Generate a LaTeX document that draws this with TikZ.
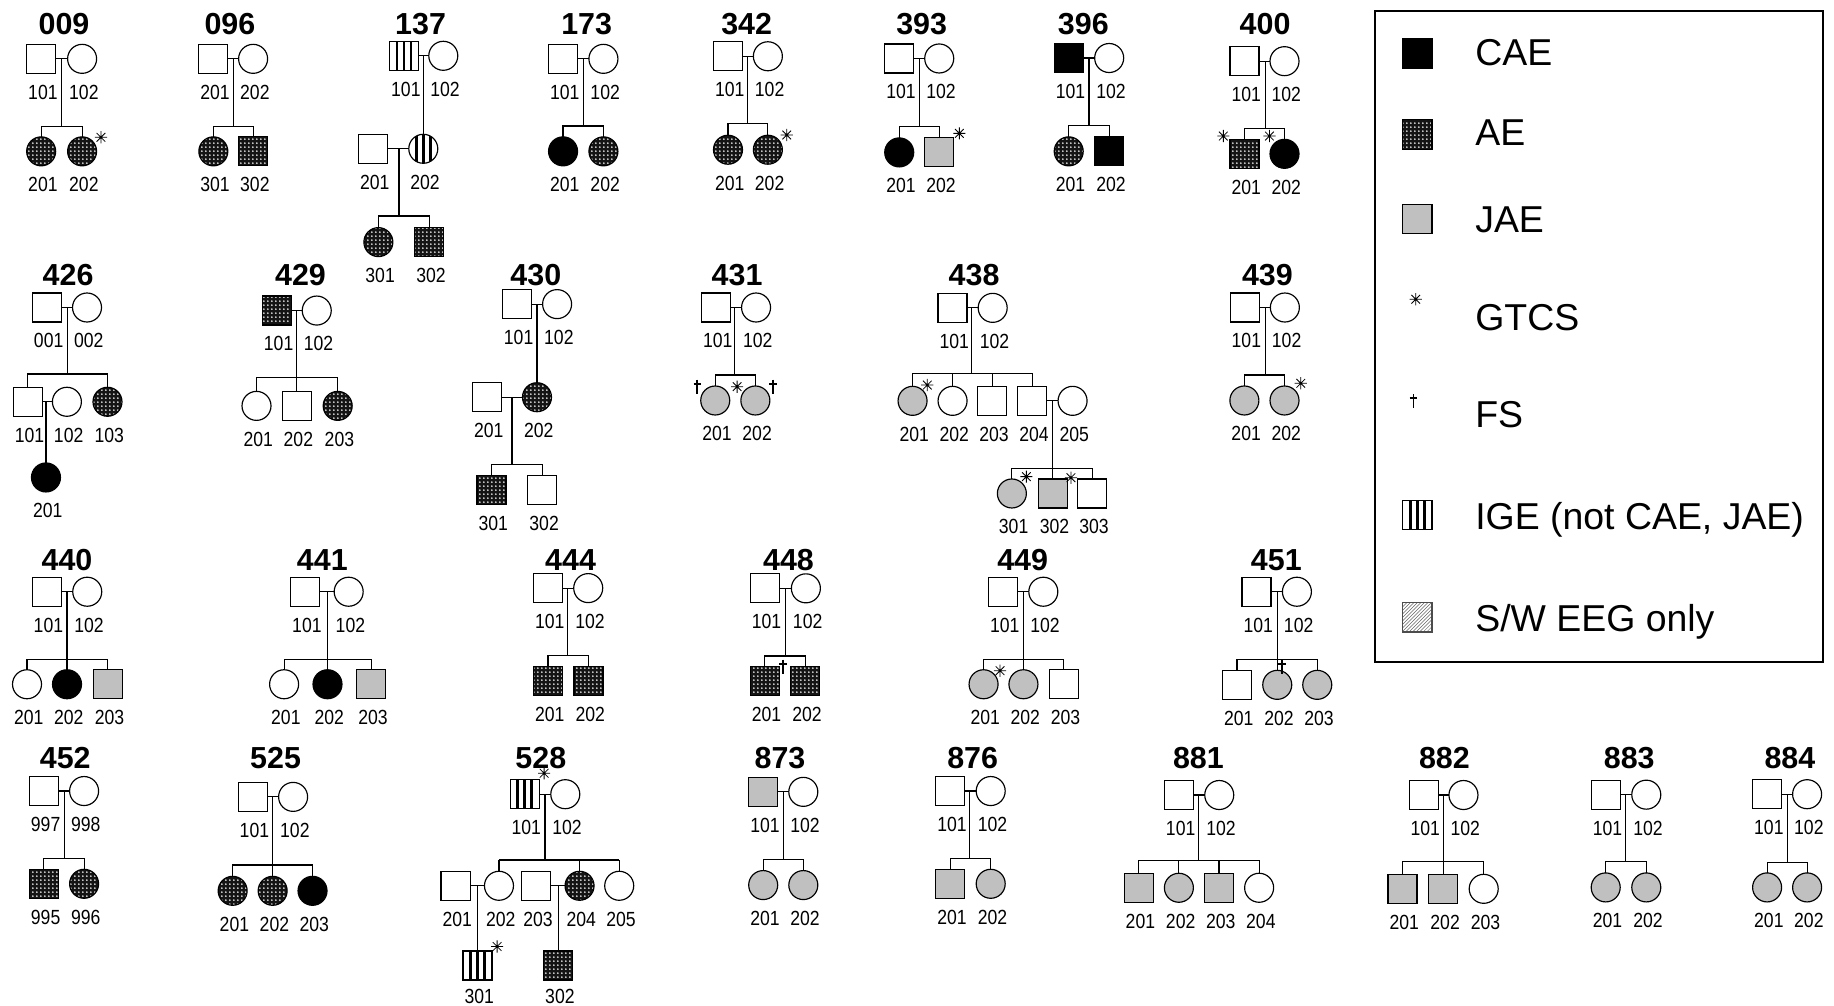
\documentclass[tikz,border=0pt]{standalone}
\usepackage{fontspec}
\setmainfont{Liberation Sans}
\newfontfamily\labfont[FakeStretch=0.86]{Liberation Sans}
\usetikzlibrary{patterns}
\pgfdeclarepatternformonly{aedots}{\pgfqpoint{0pt}{0pt}}{\pgfqpoint{3.3pt}{3.3pt}}{\pgfqpoint{3.3pt}{3.3pt}}{\pgfpathcircle{\pgfqpoint{1.65pt}{1.65pt}}{0.8pt}\pgfusepath{fill}}
\definecolor{jaegray}{RGB}{192,192,192}
\tikzset{
  pline/.style={line width=1pt, black},
  indiv/.style={draw=black, line width=1pt, inner sep=0pt, outer sep=0pt, minimum size=24.8pt},
  lab/.style={font=\labfont\fontsize{17.5}{20}\selectfont, inner sep=0pt},
  ttl/.style={font=\bfseries\fontsize{26}{30}\selectfont, inner sep=0pt},
  leg/.style={font=\fontsize{32}{36}\selectfont, inner sep=0pt, anchor=base west},
  nofill/.style={},
  cae/.style={fill=black},
  jae/.style={fill=jaegray},
  ae/.style={preaction={fill=black!92}, pattern=aedots, pattern color=white},
  ige/.style={path picture={
    \foreach \dx in {-6,0,6}{\draw[line width=2.2pt] ([xshift=\dx pt]path picture bounding box.north) -- ([xshift=\dx pt]path picture bounding box.south);}
  }},
  swfill/.style={pattern=north east lines, pattern color=black!60},
  gtcs/.pic={\draw[line width=0.7pt] (-5.2,0)--(5.2,0) (0,-5.2)--(0,5.2) (-3.7,-3.7)--(3.7,3.7) (-3.7,3.7)--(3.7,-3.7);},
  fsd/.pic={\draw[line width=1.5pt] (0,-6)--(0,6) (-3.2,-2.5)--(3.2,-2.5);}
}
\newcommand{\pedM}[5]{\node[indiv,rectangle,#4] (#1) at (#2,#3) {};\node[lab] (#1l) at (#2+1.5,#3+28.5) {#5};}
\newcommand{\pedF}[5]{\node[indiv,circle,#4] (#1) at (#2,#3) {};\node[lab] (#1l) at (#2+1.5,#3+28.5) {#5};}
\newcommand{\pedmate}[2]{\draw[pline] (#1) -- (#2);}
\newcommand{\peddesc}[2]{\draw[pline] (#1 |- #2.east) -- (#1);}
\newcommand{\pedsib}[3]{\draw[pline] (#2.north) |- (#1) -| (#3.north);}
\newcommand{\peddrop}[2]{\draw[pline] (#2.north) -- (#2.north |- #1);}
\newcommand{\pedchild}[2]{\draw[pline] (#2.north |- #1.east) -- (#2.north);}
\begin{document}
\begin{tikzpicture}[x=1pt,y=-1pt]
\useasboundingbox (0,0) rectangle (1568,860);
% ---------- row 1 ----------
% 009
\node[ttl] (p009t) at (54.7,20.7) {009};
\pedM{p009i101}{35.2}{50.3}{nofill}{101}
\pedF{p009i102}{70.2}{50.3}{nofill}{102}
\pedF{p009i201}{35.2}{129.4}{ae}{201}
\pedF{p009i202}{70.2}{129.4}{ae}{202}
\coordinate (p009s) at (52.7,108.3);
\pedmate{p009i101}{p009i102}
\peddesc{p009s}{p009i101}
\pedsib{p009s}{p009i201}{p009i202}
\pic at (86.3,117.4) {gtcs};
% 096
\node[ttl] (p096t) at (196.6,20.7) {096};
\pedM{p096i201}{182.4}{50.3}{nofill}{201}
\pedF{p096i202}{216.4}{50.3}{nofill}{202}
\pedF{p096i301}{182.4}{129.4}{ae}{301}
\pedM{p096i302}{216.4}{129.4}{ae}{302}
\coordinate (p096s) at (199.5,108.3);
\pedmate{p096i201}{p096i202}
\peddesc{p096s}{p096i201}
\pedsib{p096s}{p096i301}{p096i302}
% 137
\node[ttl] (p137t) at (359.6,20.7) {137};
\pedM{p137i101}{345.5}{47.7}{ige}{101}
\pedF{p137i102}{379}{47.7}{nofill}{102}
\pedM{p137i201}{318.9}{127.2}{nofill}{201}
\pedF{p137i202}{361.9}{127.2}{ige}{202}
\pedF{p137i301}{323.5}{207}{ae}{301}
\pedM{p137i302}{367}{207}{ae}{302}
\coordinate (p137s) at (341.1,184.7);
\pedmate{p137i101}{p137i102}
\pedchild{p137i101}{p137i202}
\pedmate{p137i201}{p137i202}
\peddesc{p137s}{p137i201}
\pedsib{p137s}{p137i301}{p137i302}
% 173
\node[ttl] (p173t) at (501.6,20.7) {173};
\pedM{p173i101}{481.4}{50.3}{nofill}{101}
\pedF{p173i102}{515.9}{50.3}{nofill}{102}
\pedF{p173i201}{481.4}{129.4}{cae}{201}
\pedF{p173i202}{515.9}{129.4}{ae}{202}
\coordinate (p173s) at (498.7,107.7);
\pedmate{p173i101}{p173i102}
\peddesc{p173s}{p173i101}
\pedsib{p173s}{p173i201}{p173i202}
% 342
\node[ttl] (p342t) at (638.4,20.7) {342};
\pedM{p342i101}{622.4}{48.1}{nofill}{101}
\pedF{p342i102}{656.5}{48.1}{nofill}{102}
\pedF{p342i201}{622.4}{128}{ae}{201}
\pedF{p342i202}{656.5}{128}{ae}{202}
\coordinate (p342s) at (639.3,105.4);
\pedmate{p342i101}{p342i102}
\peddesc{p342s}{p342i101}
\pedsib{p342s}{p342i201}{p342i202}
\pic at (672.6,115.4) {gtcs};
% 393
\node[ttl] (p393t) at (788,20.7) {393};
\pedM{p393i101}{768.8}{50}{nofill}{101}
\pedF{p393i102}{803}{50}{nofill}{102}
\pedF{p393i201}{768.8}{130.3}{cae}{201}
\pedM{p393i202}{803}{130.3}{jae}{202}
\coordinate (p393s) at (786,108.3);
\pedmate{p393i101}{p393i102}
\peddesc{p393s}{p393i101}
\pedsib{p393s}{p393i201}{p393i202}
\pic at (820.2,114) {gtcs};
% 396
\node[ttl] (p396t) at (926.2,20.7) {396};
\pedM{p396i101}{913.7}{49.6}{cae}{101}
\pedF{p396i102}{948.3}{49.6}{nofill}{102}
\pedF{p396i201}{913.7}{129.4}{ae}{201}
\pedM{p396i202}{948.3}{129.4}{cae}{202}
\coordinate (p396s) at (931.1,107.4);
\pedmate{p396i101}{p396i102}
\peddesc{p396s}{p396i101}
\pedsib{p396s}{p396i201}{p396i202}
% 400
\node[ttl] (p400t) at (1081.6,20.7) {400};
\pedM{p400i101}{1064}{52.3}{nofill}{101}
\pedF{p400i102}{1098.2}{52.3}{nofill}{102}
\pedM{p400i201}{1064}{131.5}{ae}{201}
\pedF{p400i202}{1098.2}{131.5}{cae}{202}
\coordinate (p400s) at (1081.6,109.7);
\pedmate{p400i101}{p400i102}
\peddesc{p400s}{p400i101}
\pedsib{p400s}{p400i201}{p400i202}
\pic at (1045.9,116.3) {gtcs};
\pic at (1085.3,116.3) {gtcs};
% ---------- row 2 ----------
% 426
\node[ttl] (p426t) at (58.2,235.1) {426};
\pedM{p426i001}{40.1}{262.9}{nofill}{001}
\pedF{p426i002}{74.4}{262.9}{nofill}{002}
\pedM{p426i101}{23.7}{343.5}{nofill}{101}
\pedF{p426i102}{57.2}{343.5}{nofill}{102}
\pedF{p426i103}{91.9}{343.5}{ae}{103}
\pedF{p426i201}{39.3}{408.2}{cae}{201}
\coordinate (p426s) at (57.9,319.8);
\pedmate{p426i001}{p426i002}
\peddesc{p426s}{p426i001}
\pedsib{p426s}{p426i101}{p426i103}
\pedmate{p426i101}{p426i102}
\pedchild{p426i101}{p426i201}
% 429
\node[ttl] (p429t) at (256.9,235.1) {429};
\pedM{p429i101}{236.7}{265.5}{ae}{101}
\pedF{p429i102}{270.8}{265.5}{nofill}{102}
\pedF{p429i201}{219.3}{347}{nofill}{201}
\pedM{p429i202}{253.6}{347}{nofill}{202}
\pedF{p429i203}{288.7}{347}{ae}{203}
\coordinate (p429s) at (253.6,322.6);
\pedmate{p429i101}{p429i102}
\peddesc{p429s}{p429i101}
\pedsib{p429s}{p429i201}{p429i203}
\peddrop{p429s}{p429i202}
% 430
\node[ttl] (p430t) at (458.1,235.1) {430};
\pedM{p430i101}{441.9}{260}{nofill}{101}
\pedF{p430i102}{476.3}{260}{nofill}{102}
\pedM{p430i201}{416.4}{339.6}{nofill}{201}
\pedF{p430i202}{459.1}{339.6}{ae}{202}
\pedM{p430i301}{420.2}{419.1}{ae}{301}
\pedM{p430i302}{463.7}{419.1}{nofill}{302}
\coordinate (p430s) at (437.8,397);
\pedmate{p430i101}{p430i102}
\pedchild{p430i101}{p430i202}
\pedmate{p430i201}{p430i202}
\peddesc{p430s}{p430i201}
\pedsib{p430s}{p430i301}{p430i302}
% 431
\node[ttl] (p431t) at (630.2,235.1) {431};
\pedM{p431i101}{612.1}{262.9}{nofill}{101}
\pedF{p431i102}{646.4}{262.9}{nofill}{102}
\pedF{p431i201}{611.5}{342.4}{jae}{201}
\pedF{p431i202}{645.8}{342.4}{jae}{202}
\coordinate (p431s) at (628.3,320.6);
\pedmate{p431i101}{p431i102}
\peddesc{p431s}{p431i101}
\pedsib{p431s}{p431i201}{p431i202}
\pic at (596.2,330.6) {fsd};
\pic at (660.7,330.6) {fsd};
\pic at (630.2,330.6) {gtcs};
% 438
\node[ttl] (p438t) at (832.8,235.1) {438};
\pedM{p438i101}{814.4}{263.2}{nofill}{101}
\pedF{p438i102}{848.7}{263.2}{nofill}{102}
\pedF{p438i201}{780.2}{342.7}{jae}{201}
\pedF{p438i202}{814.4}{342.7}{nofill}{202}
\pedM{p438i203}{848.4}{342.7}{nofill}{203}
\pedM{p438i204}{882.6}{342.7}{nofill}{204}
\pedF{p438i205}{917}{342.7}{nofill}{205}
\pedF{p438i301}{865.1}{421.9}{jae}{301}
\pedM{p438i302}{900}{421.9}{jae}{302}
\pedM{p438i303}{933.9}{421.9}{nofill}{303}
\coordinate (p438s) at (830.6,319.2);
\coordinate (p438r) at (900,400.4);
\pedmate{p438i101}{p438i102}
\peddesc{p438s}{p438i101}
\pedsib{p438s}{p438i201}{p438i204}
\peddrop{p438s}{p438i202}
\peddrop{p438s}{p438i203}
\pedmate{p438i204}{p438i205}
\peddesc{p438r}{p438i204}
\pedsib{p438r}{p438i301}{p438i303}
\peddrop{p438r}{p438i302}
\pic at (792.8,329.2) {gtcs};
\pic at (877.5,407.5) {gtcs};
\pic at (915.6,408.4) {gtcs};
% 439
\node[ttl] (p439t) at (1083.6,235.1) {439};
\pedM{p439i101}{1064.1}{262.9}{nofill}{101}
\pedF{p439i102}{1098.5}{262.9}{nofill}{102}
\pedF{p439i201}{1063.9}{342.4}{jae}{201}
\pedF{p439i202}{1098.2}{342.4}{jae}{202}
\coordinate (p439s) at (1081.6,320.6);
\pedmate{p439i101}{p439i102}
\peddesc{p439s}{p439i101}
\pedsib{p439s}{p439i201}{p439i202}
\pic at (1112.1,327.7) {gtcs};
% ---------- row 3 ----------
% 440
\node[ttl] (p440t) at (57.3,478.8) {440};
\pedM{p440i101}{39.9}{505.9}{nofill}{101}
\pedF{p440i102}{74.6}{505.9}{nofill}{102}
\pedF{p440i201}{23.1}{585}{nofill}{201}
\pedF{p440i202}{57.3}{585}{cae}{202}
\pedM{p440i203}{92.2}{585}{jae}{203}
\coordinate (p440s) at (57.3,563.7);
\pedmate{p440i101}{p440i102}
\peddesc{p440s}{p440i101}
\pedsib{p440s}{p440i201}{p440i203}
\peddrop{p440s}{p440i202}
% 441
\node[ttl] (p441t) at (275.6,478.8) {441};
\pedM{p441i101}{260.9}{505.9}{nofill}{101}
\pedF{p441i102}{298.1}{505.9}{nofill}{102}
\pedF{p441i201}{242.9}{585}{nofill}{201}
\pedF{p441i202}{280}{585}{cae}{202}
\pedM{p441i203}{317.4}{585}{jae}{203}
\coordinate (p441s) at (280,563.7);
\pedmate{p441i101}{p441i102}
\peddesc{p441s}{p441i101}
\pedsib{p441s}{p441i201}{p441i203}
\peddrop{p441s}{p441i202}
% 444
\node[ttl] (p444t) at (487.8,478.8) {444};
\pedM{p444i101}{468.5}{502.8}{nofill}{101}
\pedF{p444i102}{502.9}{502.8}{nofill}{102}
\pedM{p444i201}{468.5}{582.3}{ae}{201}
\pedM{p444i202}{503.2}{582.3}{ae}{202}
\coordinate (p444s) at (485.5,560.5);
\pedmate{p444i101}{p444i102}
\peddesc{p444s}{p444i101}
\pedsib{p444s}{p444i201}{p444i202}
% 448
\node[ttl] (p448t) at (674.1,478.8) {448};
\pedM{p448i101}{653.8}{503}{nofill}{101}
\pedF{p448i102}{689}{503}{nofill}{102}
\pedM{p448i201}{653.8}{582.3}{ae}{201}
\pedM{p448i202}{688.5}{582.3}{ae}{202}
\coordinate (p448s) at (671.5,560.8);
\pedmate{p448i101}{p448i102}
\peddesc{p448s}{p448i101}
\pedsib{p448s}{p448i201}{p448i202}
\pic at (669.6,569.9) {fsd};
% 449
\node[ttl] (p449t) at (874.3,478.8) {449};
\pedM{p449i101}{857.5}{505.9}{nofill}{101}
\pedF{p449i102}{892}{505.9}{nofill}{102}
\pedF{p449i201}{840.9}{585}{jae}{201}
\pedF{p449i202}{875}{585}{jae}{202}
\pedM{p449i203}{909.4}{585}{nofill}{203}
\coordinate (p449s) at (875,563.7);
\pedmate{p449i101}{p449i102}
\peddesc{p449s}{p449i101}
\pedsib{p449s}{p449i201}{p449i203}
\peddrop{p449s}{p449i202}
\pic at (855,573.4) {gtcs};
% 451
\node[ttl] (p451t) at (1091.2,478.8) {451};
\pedM{p451i101}{1074.3}{505.9}{nofill}{101}
\pedF{p451i102}{1108.8}{505.9}{nofill}{102}
\pedM{p451i201}{1057.6}{585.5}{nofill}{201}
\pedF{p451i202}{1092}{585.5}{jae}{202}
\pedF{p451i203}{1126.2}{585.5}{jae}{203}
\coordinate (p451s) at (1092,563.7);
\pedmate{p451i101}{p451i102}
\peddesc{p451s}{p451i101}
\pedsib{p451s}{p451i201}{p451i203}
\peddrop{p451s}{p451i202}
\pic at (1096,570.5) {fsd};
% ---------- row 4 ----------
% 452
\node[ttl] (p452t) at (55.8,648.3) {452};
\pedM{p452i997}{37.5}{676.3}{nofill}{997}
\pedF{p452i998}{71.9}{676.3}{nofill}{998}
\pedM{p452i995}{37.5}{755.6}{ae}{995}
\pedF{p452i996}{71.9}{755.6}{ae}{996}
\coordinate (p452s) at (54.8,733.8);
\pedmate{p452i997}{p452i998}
\peddesc{p452s}{p452i997}
\pedsib{p452s}{p452i995}{p452i996}
% 525
\node[ttl] (p525t) at (235.6,648.3) {525};
\pedM{p525i101}{216}{681.3}{nofill}{101}
\pedF{p525i102}{250.6}{681.3}{nofill}{102}
\pedF{p525i201}{198.9}{761.6}{ae}{201}
\pedF{p525i202}{233.1}{761.6}{ae}{202}
\pedF{p525i203}{267.2}{761.6}{cae}{203}
\coordinate (p525s) at (233.1,739.5);
\pedmate{p525i101}{p525i102}
\peddesc{p525s}{p525i101}
\pedsib{p525s}{p525i201}{p525i203}
\peddrop{p525s}{p525i202}
% 528
\node[ttl] (p528t) at (462.4,648.3) {528};
\pedM{p528i101}{448.5}{679}{ige}{101}
\pedF{p528i102}{483.3}{679}{nofill}{102}
\pedM{p528i201}{389.5}{757.3}{nofill}{201}
\pedF{p528i202}{426.6}{757.3}{nofill}{202}
\pedM{p528i203}{458.5}{757.3}{nofill}{203}
\pedF{p528i204}{495.5}{757.3}{ae}{204}
\pedF{p528i205}{529.4}{757.3}{nofill}{205}
\node[indiv,rectangle,ige] (p528i301) at (408.3,825.5) {};
\node[lab] (p528i301l) at (409.8,851.5) {301};
\node[indiv,rectangle,ae] (p528i302) at (477.2,825.5) {};
\node[lab] (p528i302l) at (478.7,851.5) {302};
\coordinate (p528s) at (465.9,735.2);
\pedmate{p528i101}{p528i102}
\peddesc{p528s}{p528i101}
\peddrop{p528s}{p528i202}
\peddrop{p528s}{p528i204}
\peddrop{p528s}{p528i205}
\draw[line width=2pt] (p528i202.north |- p528s) -- (p528i205.north |- p528s);
\pedmate{p528i201}{p528i202}
\pedchild{p528i201}{p528i301}
\pedmate{p528i203}{p528i204}
\pedchild{p528i203}{p528i302}
\pic at (465.2,661.1) {gtcs};
\pic at (425,809.2) {gtcs};
% 873
\node[ttl] (p873t) at (666.9,648.3) {873};
\pedM{p873i101}{652.5}{677}{jae}{101}
\pedF{p873i102}{686.8}{677}{nofill}{102}
\pedF{p873i201}{652.5}{756.7}{jae}{201}
\pedF{p873i202}{686.8}{756.7}{jae}{202}
\coordinate (p873s) at (670,734.7);
\pedmate{p873i101}{p873i102}
\peddesc{p873s}{p873i101}
\pedsib{p873s}{p873i201}{p873i202}
% 876
\node[ttl] (p876t) at (831.6,648.3) {876};
\pedM{p876i101}{812.4}{676.3}{nofill}{101}
\pedF{p876i102}{847}{676.3}{nofill}{102}
\pedM{p876i201}{812.4}{755.6}{jae}{201}
\pedF{p876i202}{847}{755.6}{jae}{202}
\coordinate (p876s) at (829.2,733.8);
\pedmate{p876i101}{p876i102}
\peddesc{p876s}{p876i101}
\pedsib{p876s}{p876i201}{p876i202}
% 881
\node[ttl] (p881t) at (1024.6,648.3) {881};
\pedM{p881i101}{1007.9}{679.7}{nofill}{101}
\pedF{p881i102}{1042.4}{679.7}{nofill}{102}
\pedM{p881i201}{973.5}{759}{jae}{201}
\pedF{p881i202}{1007.9}{759}{jae}{202}
\pedM{p881i203}{1042.2}{759}{jae}{203}
\pedF{p881i204}{1076.5}{759}{nofill}{204}
\coordinate (p881s) at (1024.6,735.8);
\pedmate{p881i101}{p881i102}
\peddesc{p881s}{p881i101}
\pedsib{p881s}{p881i201}{p881i204}
\peddrop{p881s}{p881i202}
\peddrop{p881s}{p881i203}
% 882
\node[ttl] (p882t) at (1234.9,648.3) {882};
\pedM{p882i101}{1217.1}{679.7}{nofill}{101}
\pedF{p882i102}{1251.2}{679.7}{nofill}{102}
\pedM{p882i201}{1199.1}{759.9}{jae}{201}
\pedM{p882i202}{1234}{759.9}{jae}{202}
\pedF{p882i203}{1268.5}{759.9}{nofill}{203}
\coordinate (p882s) at (1234,736.7);
\pedmate{p882i101}{p882i102}
\peddesc{p882s}{p882i101}
\pedsib{p882s}{p882i201}{p882i203}
\peddrop{p882s}{p882i202}
% 883
\node[ttl] (p883t) at (1392.9,648.3) {883};
\pedM{p883i101}{1372.8}{679.4}{nofill}{101}
\pedF{p883i102}{1407.5}{679.4}{nofill}{102}
\pedF{p883i201}{1372.8}{758.7}{jae}{201}
\pedF{p883i202}{1407.5}{758.7}{jae}{202}
\coordinate (p883s) at (1389.9,736.7);
\pedmate{p883i101}{p883i102}
\peddesc{p883s}{p883i101}
\pedsib{p883s}{p883i201}{p883i202}
% 884
\node[ttl] (p884t) at (1530.3,648.3) {884};
\pedM{p884i101}{1510.8}{679}{nofill}{101}
\pedF{p884i102}{1545}{679}{nofill}{102}
\pedF{p884i201}{1510.8}{758.7}{jae}{201}
\pedF{p884i202}{1545}{758.7}{jae}{202}
\coordinate (p884s) at (1528.5,737.5);
\pedmate{p884i101}{p884i102}
\peddesc{p884s}{p884i101}
\pedsib{p884s}{p884i201}{p884i202}
% ---------- legend ----------
\node[draw, line width=2pt, inner sep=0pt, minimum width=382.8pt, minimum height=556.9pt] (legbox) at (1367,287.75) {};
\node[indiv,rectangle,cae,minimum size=25pt] (lgcae) at (1211.8,45.8) {};
\node[leg] (lgcaet) at (1261.1,56) {CAE};
\node[indiv,rectangle,ae,minimum size=25pt] (lgae) at (1211.8,115) {};
\node[leg] (lgaet) at (1261.1,124.6) {AE};
\node[indiv,rectangle,jae,minimum size=25pt] (lgjae) at (1211.8,187.3) {};
\node[leg] (lgjaet) at (1261.1,198.7) {JAE};
\pic at (1210.4,255.8) {gtcs};
\node[leg] (lggtcst) at (1261.1,282.2) {GTCS};
\pic at (1208.4,343) {fsd};
\node[leg] (lgfst) at (1261.1,365.6) {FS};
\node[indiv,rectangle,ige,minimum size=25pt] (lgige) at (1211.8,440.3) {};
\node[leg] (lgiget) at (1261.1,452.7) {IGE (not CAE, JAE)};
\node[indiv,rectangle,swfill,draw=black!70,minimum size=25pt] (lgsw) at (1211.8,527.8) {};
\node[leg] (lgswt) at (1261.1,539.9) {S/W EEG only};
\end{tikzpicture}
\end{document}
